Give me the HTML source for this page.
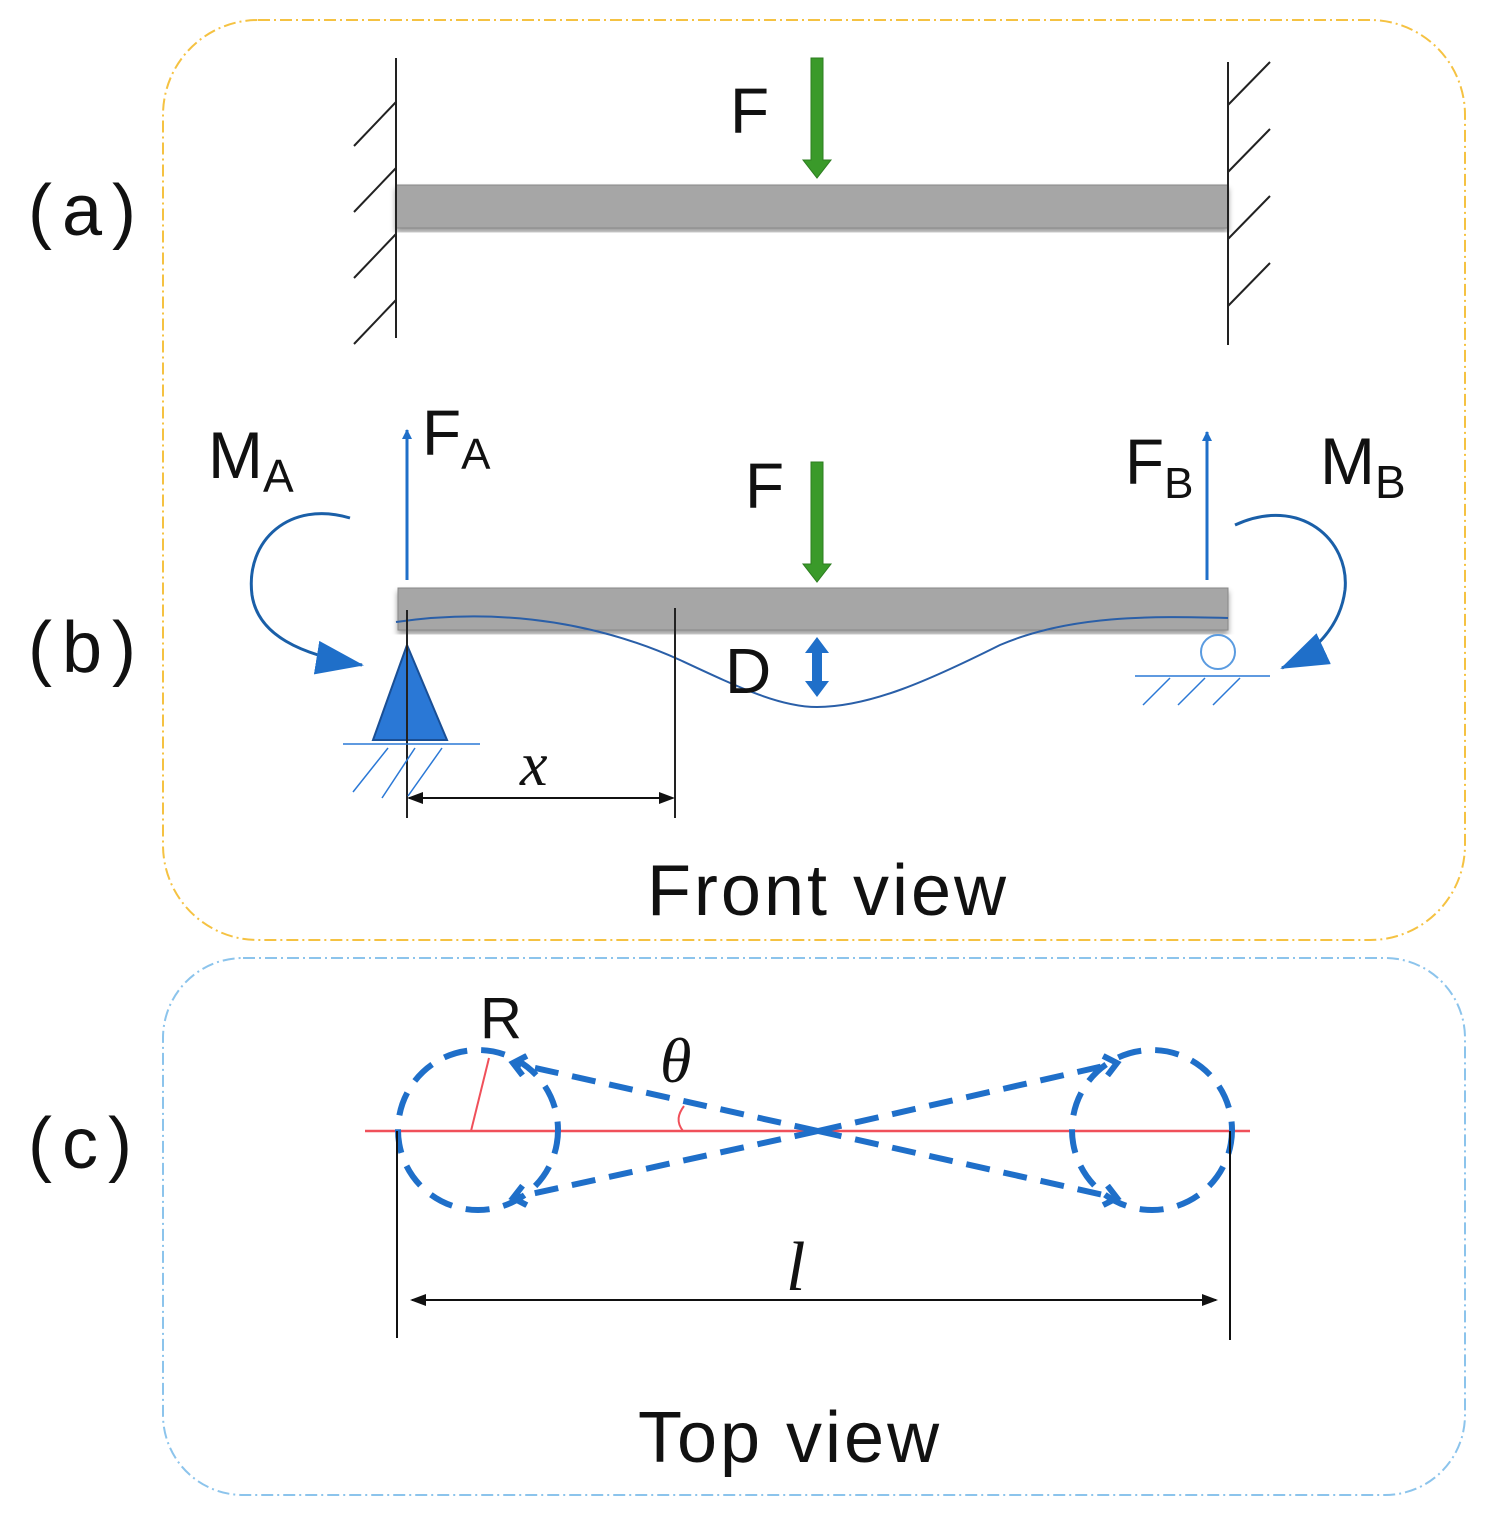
<!DOCTYPE html>
<html><head><style>body{margin:0;background:#fff}svg{display:block}text{font-family:"Liberation Sans",sans-serif;fill:#111}</style></head>
<body>
<svg width="1495" height="1535" viewBox="0 0 1495 1535" xmlns="http://www.w3.org/2000/svg">
<defs>
<marker id="ab" markerWidth="10" markerHeight="10" refX="9" refY="5" orient="auto" markerUnits="userSpaceOnUse"><path d="M0,0 L10,5 L0,10 z" fill="#1f6fc9"/></marker>
<marker id="big" markerWidth="48" markerHeight="34" refX="46" refY="17" orient="auto" markerUnits="userSpaceOnUse"><path d="M0,0 L48,17 L0,34 z" fill="#1f6fc9"/></marker>
<marker id="da" markerWidth="24" markerHeight="24" refX="14" refY="12" orient="auto" markerUnits="userSpaceOnUse"><path d="M2,2 L14,12 L2,22" fill="none" stroke="#1f6fc9" stroke-width="6"/></marker>
<filter id="sh"><feDropShadow dx="0" dy="4" stdDeviation="3" flood-color="#000" flood-opacity="0.4"/></filter>
</defs>
<rect x="163" y="20" width="1302" height="920" rx="95" fill="none" stroke="#f5c242" stroke-width="2" stroke-dasharray="12,4,2,4"/>
<rect x="163" y="958" width="1302" height="537" rx="80" fill="none" stroke="#8cc4ec" stroke-width="2" stroke-dasharray="12,4,2,4"/>
<text x="28" y="235" font-size="72" letter-spacing="10">(a)</text>
<text x="28" y="672" font-size="72" letter-spacing="10">(b)</text>
<text x="28" y="1168" font-size="72" letter-spacing="10">(c)</text>
<!-- (a) -->
<rect x="396" y="185" width="832" height="43" fill="#a6a6a6" stroke="#888" filter="url(#sh)"/>
<g stroke="#222" stroke-width="2">
<line x1="396" y1="58" x2="396" y2="338"/>
<line x1="396" y1="102" x2="354" y2="146"/><line x1="396" y1="168" x2="354" y2="212"/><line x1="396" y1="234" x2="354" y2="278"/><line x1="396" y1="300" x2="354" y2="344"/>
<line x1="1228" y1="62" x2="1228" y2="345"/>
<line x1="1228" y1="105" x2="1270" y2="62"/><line x1="1228" y1="172" x2="1270" y2="129"/><line x1="1228" y1="239" x2="1270" y2="196"/><line x1="1228" y1="306" x2="1270" y2="263"/>
</g>
<path d="M811,58 h12 v102 h8 l-14,18 l-14,-18 h8 z" fill="#3a9a2a" stroke="#2d7d20"/>
<text x="730" y="133" font-size="64">F</text>
<!-- (b) -->
<rect x="398" y="588" width="830" height="42" fill="#a6a6a6" stroke="#888" filter="url(#sh)"/>
<path d="M811,462 h12 v102 h8 l-14,18 l-14,-18 h8 z" fill="#3a9a2a" stroke="#2d7d20"/>
<text x="745" y="508" font-size="64">F</text>
<line x1="407" y1="580" x2="407" y2="430" stroke="#1f6fc9" stroke-width="3" marker-end="url(#ab)"/>
<text x="422" y="455" font-size="64">F<tspan font-size="44" dy="14">A</tspan></text>
<text x="208" y="478" font-size="66">M<tspan font-size="46" dy="14">A</tspan></text>
<line x1="1207" y1="580" x2="1207" y2="432" stroke="#1f6fc9" stroke-width="3" marker-end="url(#ab)"/>
<text x="1125" y="484" font-size="64">F<tspan font-size="44" dy="14">B</tspan></text>
<text x="1320" y="484" font-size="66">M<tspan font-size="46" dy="14">B</tspan></text>
<path d="M350,518 C290,500 245,540 252,595 C258,635 300,655 362,665" fill="none" stroke="#1a5fa8" stroke-width="3" marker-end="url(#big)"/>
<path d="M1235,525 C1300,495 1350,540 1345,590 C1340,630 1310,655 1282,668" fill="none" stroke="#1a5fa8" stroke-width="3" marker-end="url(#big)"/>
<path d="M396,622 C480,610 580,615 680,660 C740,688 780,707 817,707 C870,707 930,680 1000,645 C1070,615 1150,616 1228,618" fill="none" stroke="#2a5fa8" stroke-width="2"/>
<line x1="675" y1="608" x2="675" y2="818" stroke="#222" stroke-width="2"/>
<polygon points="407,645 373,740 447,740" fill="#2a78d6" stroke="#1a4f95" stroke-width="2"/>
<line x1="407" y1="610" x2="407" y2="818" stroke="#222" stroke-width="2"/>
<g stroke="#2a78d6" stroke-width="1.5">
<line x1="343" y1="744" x2="480" y2="744"/>
<line x1="388" y1="748" x2="353" y2="792"/><line x1="415" y1="748" x2="382" y2="798"/><line x1="442" y1="748" x2="408" y2="796"/>
<line x1="1135" y1="676" x2="1270" y2="676"/>
<line x1="1170" y1="678" x2="1143" y2="705"/><line x1="1205" y1="678" x2="1178" y2="705"/><line x1="1240" y1="678" x2="1213" y2="705"/>
</g>
<circle cx="1218" cy="652" r="17" fill="#fff" stroke="#5a9be0" stroke-width="2"/>
<line x1="409" y1="798" x2="660" y2="798" stroke="#111" stroke-width="2"/>
<path d="M407,798 l16,-6 v12 z M675,798 l-16,-6 v12 z" fill="#111"/>
<text x="520" y="785" font-size="62" style="font-style:italic;font-family:'Liberation Serif',serif">x</text>
<path d="M817,637 l-12,16 h7 v28 h-7 l12,16 l12,-16 h-7 v-28 h7 z" fill="#1f6fc9"/>
<text x="725" y="693" font-size="64">D</text>
<text x="828" y="915" font-size="72" text-anchor="middle" letter-spacing="3">Front view</text>
<!-- (c) -->
<line x1="365" y1="1131" x2="1250" y2="1131" stroke="#f0505a" stroke-width="2.5"/>
<g fill="none" stroke="#1f6fc9" stroke-width="6" stroke-dasharray="24,14">
<circle cx="478" cy="1130" r="80"/>
<circle cx="1152" cy="1130" r="80"/>
<line x1="818" y1="1131" x2="513" y2="1063" marker-end="url(#da)"/>
<line x1="818" y1="1131" x2="513" y2="1198" marker-end="url(#da)"/>
<line x1="818" y1="1131" x2="1117" y2="1063" marker-end="url(#da)"/>
<line x1="818" y1="1131" x2="1117" y2="1198" marker-end="url(#da)"/>
</g>
<line x1="471" y1="1131" x2="489" y2="1058" stroke="#f0505a" stroke-width="2"/>
<path d="M683,1131 C676,1122 678,1114 684,1106" fill="none" stroke="#f0505a" stroke-width="2"/>
<text x="480" y="1038" font-size="58">R</text>
<text x="660" y="1082" font-size="64" style="font-style:italic;font-family:'Liberation Serif',serif">θ</text>
<line x1="397" y1="1131" x2="397" y2="1338" stroke="#111" stroke-width="2"/>
<line x1="1230" y1="1131" x2="1230" y2="1340" stroke="#111" stroke-width="2"/>
<line x1="412" y1="1300" x2="1216" y2="1300" stroke="#111" stroke-width="2"/>
<path d="M410,1300 l16,-6 v12 z M1218,1300 l-16,-6 v12 z" fill="#111"/>
<text x="786" y="1290" font-size="70" style="font-style:italic;font-family:'Liberation Serif',serif">l</text>
<text x="790" y="1462" font-size="72" text-anchor="middle" letter-spacing="3">Top view</text>
</svg>
</body></html>
